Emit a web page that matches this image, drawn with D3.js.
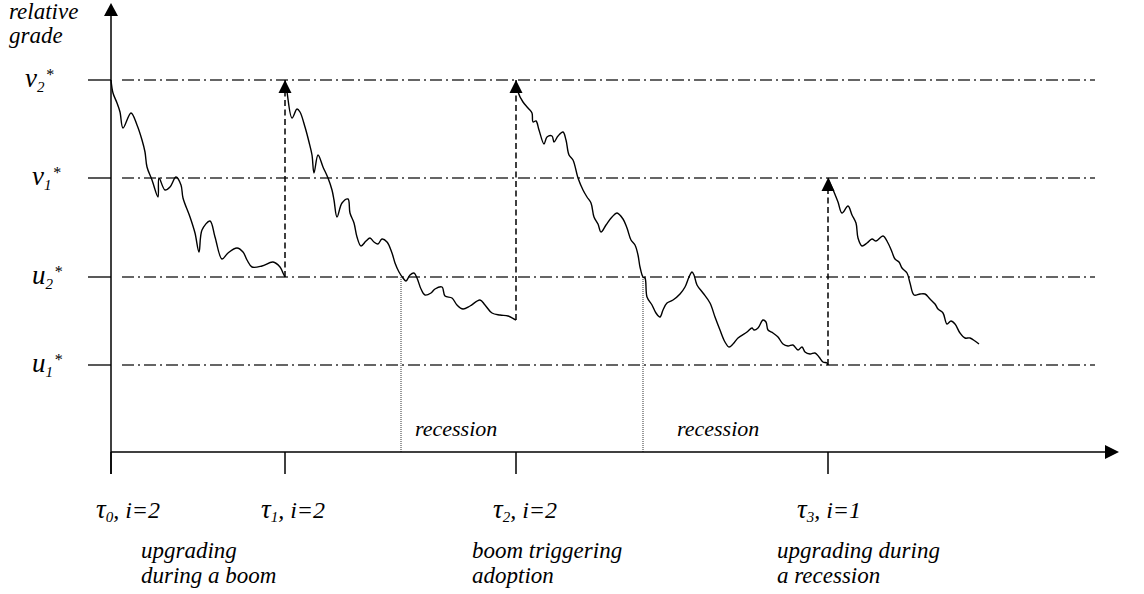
<!DOCTYPE html>
<html>
<head>
<meta charset="utf-8">
<script src="https://cdn.jsdelivr.net/npm/d3@7"></script>
<style>
  html, body { margin: 0; padding: 0; background: #fff; }
  svg { display: block; }
</style>
</head>
<body>
<svg id="chart" width="1144" height="594"></svg>
<script>
// time of each adoption / upgrade and the grade thresholds
const TAUS = [0, 174, 405, 717];
const LEVELS = [
  { name: "v", sub: "2", value: 372 },
  { name: "v", sub: "1", value: 274 },
  { name: "u", sub: "2", value: 175 },
  { name: "u", sub: "1", value: 87 }
];

// relative grade path between the upgrades, [time, grade]
const SEG0 = [[0,372],[2,359],[6,349],[9,340],[12,324],[20,339],[26,327],[31,312],[34,300],[36,285],[41,272],[47,255],[48,274],[54,262],[59,265],[65,275],[70,267],[72,254],[79,235],[84,219],[88,200],[91,222],[99,231],[104,215],[111,193],[117,199],[126,204],[132,200],[136,192],[141,185],[151,186],[162,190],[169,185],[172,179],[174,175]];
const SEG1 = [[174,372],[176,360],[181,334],[186,343],[189,340],[194,325],[198,310],[201,297],[203,279],[207,297],[212,285],[217,274],[221,262],[223,252],[226,235],[231,249],[237,253],[239,239],[243,229],[246,215],[250,206],[255,211],[259,214],[263,210],[267,208],[271,213],[276,210],[281,199],[284,189],[288,180],[292,174],[295,171],[299,177],[303,179],[306,174],[310,163],[314,157],[320,159],[324,163],[331,165],[334,156],[341,154],[346,147],[352,143],[359,146],[369,152],[374,147],[381,139],[389,137],[397,136],[403,133],[405,132]];
const SEG2 = [[405,372],[407,360],[412,350],[417,344],[421,339],[422,330],[425,331],[428,322],[433,308],[436,315],[441,316],[443,310],[447,316],[452,320],[455,312],[458,297],[462,292],[467,274],[472,262],[476,255],[480,249],[483,235],[487,228],[490,220],[495,227],[501,235],[506,239],[512,233],[516,224],[520,212],[524,207],[527,197],[529,185],[532,175],[534,174],[536,155],[541,147],[545,139],[549,135],[552,142],[556,149],[562,152],[569,158],[574,165],[578,175],[581,180],[583,177],[586,167],[592,159],[599,149],[604,135],[609,122],[614,110],[618,105],[622,108],[627,114],[636,120],[641,124],[643,122],[647,124],[652,132],[655,130],[657,122],[662,119],[667,115],[672,108],[677,106],[682,107],[687,102],[691,105],[694,100],[699,98],[704,99],[708,95],[712,90],[716,89],[717,87]];
const SEG3 = [[717,274],[723,260],[727,250],[731,239],[737,246],[741,237],[745,229],[747,214],[751,206],[756,209],[761,213],[765,211],[772,216],[777,209],[781,200],[784,193],[788,190],[791,184],[796,179],[799,169],[803,157],[809,158],[814,158],[819,153],[824,148],[827,143],[832,139],[836,128],[840,131],[844,128],[849,119],[854,114],[859,114],[864,111],[868,108]];

// upgrade jumps [time, from grade, to grade]
const JUMPS = [[174, 175, 372], [405, 132, 372], [717, 87, 274]];
// start of the two recessions (path crossing u2*)
const RECESSIONS = [290, 532];

const TAU_LABELS = [
  { sub: "0", rest: ", i=2", notes: [] },
  { sub: "1", rest: ", i=2", notes: ["upgrading", "during a boom"] },
  { sub: "2", rest: ", i=2", notes: ["boom triggering", "adoption"] },
  { sub: "3", rest: ", i=1", notes: ["upgrading during", "a recession"] }
];

const FONT = "'Liberation Serif', 'Times New Roman', Times, serif";

const svg = d3.select("#chart");
const x = d3.scaleLinear().domain([0, 1000]).range([111, 1111]);
const y = d3.scaleLinear().domain([0, 400]).range([452, 52]);

const txt = sel => sel.attr("font-family", FONT).attr("font-style", "italic").attr("fill", "#000");

const tri = (cx, cy, dir, w, h) => {
  // dir: "up" or "right"
  const p = d3.path();
  if (dir === "up") {
    p.moveTo(cx, cy); p.lineTo(cx - w / 2, cy + h); p.lineTo(cx + w / 2, cy + h);
  } else {
    p.moveTo(cx, cy); p.lineTo(cx - h, cy - w / 2); p.lineTo(cx - h, cy + w / 2);
  }
  p.closePath();
  return p.toString();
};

// threshold lines
const levels = svg.append("g");
levels.selectAll(".lvl")
  .data(LEVELS)
  .join("line")
  .attr("x1", x(11)).attr("x2", x(984))
  .attr("y1", d => y(d.value)).attr("y2", d => y(d.value))
  .attr("stroke", "#333").attr("stroke-width", 1.5)
  .attr("stroke-dasharray", "12,4,2,4");
levels.selectAll(".stub")
  .data(LEVELS)
  .join("line")
  .attr("x1", x(-23)).attr("x2", x(0))
  .attr("y1", d => y(d.value)).attr("y2", d => y(d.value))
  .attr("stroke", "#222").attr("stroke-width", 1.5);

const lvlText = levels.selectAll(".lbl")
  .data(LEVELS)
  .join("text")
  .call(txt)
  .attr("x", (d, i) => i === 0 ? 25 : 32)
  .attr("y", d => y(d.value) + 7)
  .attr("font-size", 27)
  .text(d => d.name);
lvlText.append("tspan").attr("font-size", 15).attr("dy", 5).text(d => d.sub);
lvlText.append("tspan").attr("font-size", 16).attr("dy", -12).attr("dx", 1).text("*");

// recession markers
svg.selectAll(".rec")
  .data(RECESSIONS)
  .join("line")
  .attr("x1", d => x(d)).attr("x2", d => x(d))
  .attr("y1", y(175)).attr("y2", y(0))
  .attr("stroke", "#333").attr("stroke-width", 1)
  .attr("stroke-dasharray", "1,1");

svg.selectAll(".rectext")
  .data(RECESSIONS)
  .join("text")
  .call(txt)
  .attr("x", (d, i) => x(d) + (i === 0 ? 14 : 34))
  .attr("y", y(16))
  .attr("font-size", 22)
  .text("recession");

// axes
svg.append("line")
  .attr("x1", x(0)).attr("x2", x(0))
  .attr("y1", y(-22)).attr("y2", y(436))
  .attr("stroke", "#000").attr("stroke-width", 1.5);
svg.append("path").attr("d", tri(x(0), y(449), "up", 14, 13)).attr("fill", "#000");
svg.append("line")
  .attr("x1", x(0)).attr("x2", x(995))
  .attr("y1", y(0)).attr("y2", y(0))
  .attr("stroke", "#000").attr("stroke-width", 1.5);
svg.append("path").attr("d", tri(x(1008), y(0), "right", 14, 14)).attr("fill", "#000");

svg.selectAll(".tick")
  .data(TAUS)
  .join("line")
  .attr("x1", d => x(d)).attr("x2", d => x(d))
  .attr("y1", y(0)).attr("y2", y(-22))
  .attr("stroke", "#000").attr("stroke-width", 1.5);

// grade path
const line = d3.line()
  .x(d => x(d[0]))
  .y(d => y(d[1]))
  .curve(d3.curveCatmullRom.alpha(0.5));
svg.selectAll(".seg")
  .data([SEG0, SEG1, SEG2, SEG3])
  .join("path")
  .attr("d", line)
  .attr("fill", "none")
  .attr("stroke", "#000")
  .attr("stroke-width", 1.4);

// upgrade jumps
svg.selectAll(".jump")
  .data(JUMPS)
  .join("line")
  .attr("x1", d => x(d[0])).attr("x2", d => x(d[0]))
  .attr("y1", d => y(d[1])).attr("y2", d => y(d[2]) + 12)
  .attr("stroke", "#000").attr("stroke-width", 1.5)
  .attr("stroke-dasharray", "6,3.5");
svg.selectAll(".jumphead")
  .data(JUMPS)
  .join("path")
  .attr("d", d => tri(x(d[0]), y(d[2]), "up", 13, 13))
  .attr("fill", "#000");

// axis titles
svg.append("text").call(txt).attr("x", 9).attr("y", 19).attr("font-size", 23).text("relative");
svg.append("text").call(txt).attr("x", 9).attr("y", 43).attr("font-size", 23).text("grade");

// tau labels
const labelDx = [-15, -24, -23, -31];
const noteDx = [0, -144, -44, -51];
const tauText = svg.selectAll(".tau")
  .data(TAU_LABELS)
  .join("text")
  .call(txt)
  .attr("x", (d, i) => x(TAUS[i]) + labelDx[i])
  .attr("y", 518)
  .attr("font-size", 27)
  .text("τ");
tauText.append("tspan").attr("font-size", 15).attr("dy", 4).text(d => d.sub);
tauText.append("tspan").attr("font-size", 24).attr("dy", -4).text(d => d.rest);

TAU_LABELS.forEach((d, i) => {
  d.notes.forEach((note, j) => {
    svg.append("text")
      .call(txt)
      .attr("x", x(TAUS[i]) + noteDx[i])
      .attr("y", 558 + j * 25)
      .attr("font-size", 23)
      .text(note);
  });
});
</script>
</body>
</html>
